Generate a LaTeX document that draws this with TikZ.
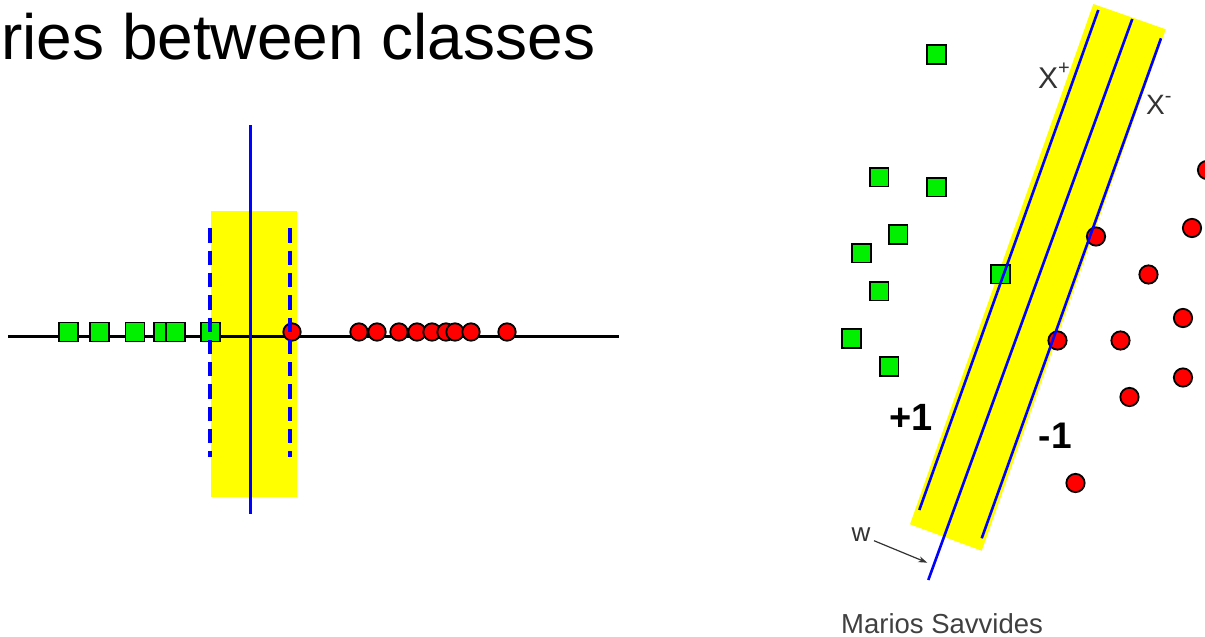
\documentclass[tikz,border=0pt]{standalone}
\usepackage{fontspec}
\setmainfont{Liberation Sans}
\usetikzlibrary{arrows.meta}
\definecolor{mygreen}{RGB}{0,240,0}
\definecolor{myred}{RGB}{255,0,0}
\definecolor{myyellow}{RGB}{255,255,0}
\definecolor{myblue}{RGB}{0,0,255}
\definecolor{labgray}{RGB}{51,51,51}
\definecolor{credgray}{RGB}{64,64,64}
\begin{document}
\begin{tikzpicture}[x=1pt,y=-1pt,
  sq/.style={draw=black,line width=1.8pt,fill=mygreen,shape=rectangle,minimum size=19pt,inner sep=0pt},
  dot/.style={draw=black,line width=1.8pt,fill=myred,shape=circle,minimum size=17.4pt,inner sep=0pt},
  sqr/.style={sq,minimum size=18.8pt},
  dotr/.style={dot,minimum size=18.3pt},
  bline/.style={draw=myblue,line width=2.6pt},
  lab/.style={inner sep=0pt,anchor=base west}]
\useasboundingbox (0,0) rectangle (1205,637);
\begin{scope}
\clip (0,0) rectangle (1205,637);
% title
\node[lab,font=\fontsize{64}{70}\selectfont] (title) at (1,59.5) {ries between classes};
% ---------- left panel ----------
\fill[myyellow] (210.7,210.7) rectangle (296.7,496.7);
\coordinate (axL) at (8,336);
\coordinate (axR) at (619,336);
\draw[line width=3pt] (axL) -- (axR);
\foreach \x [count=\i] in {68.7,99.3,135,163.6,175.3,210.7}
  \node[sq] (g\i) at (\x,332) {};
\foreach \x [count=\i] in {292,359,377,399,417,432,446,455,471,507}
  \node[dot] (r\i) at (\x,332) {};
\coordinate (hT) at (250.3,125);
\coordinate (hB) at (250.3,514.3);
\draw[myblue,line width=3.6pt] (hT) -- (hB);
\coordinate (dLT) at (210,228.3);
\coordinate (dLB) at (210,457);
\coordinate (dRT) at (290.3,228.3);
\coordinate (dRB) at (290.3,457);
\draw[myblue,line width=3.8pt,dash pattern=on 14.3pt off 8pt] (dLT) -- (dLB);
\draw[myblue,line width=3.8pt,dash pattern=on 14.3pt off 8pt] (dRT) -- (dRB);
% ---------- right panel ----------
\fill[myyellow] (1093.3,4) -- (1165.7,29.3) -- (981.7,550.7) -- (910,524.3) -- cycle;
\foreach \p [count=\i] in {(936.5,54.5),(879,177),(936.5,187),(898,234.5),(861.5,253),(879,291),(1000.5,274),(851.5,338.5),(889,366.5)}
  \node[sqr] (G\i) at \p {};
\foreach \p [count=\i] in {(1207,170),(1192,228),(1096,236.5),(1148.5,274.5),(1183,318),(1057.5,340.5),(1120.5,340.5),(1183,377.5),(1129.5,397),(1075.5,483)}
  \node[dotr] (R\i) at \p {};
\coordinate (pT) at (1098.3,10);
\coordinate (pB) at (919.3,510);
\coordinate (mT) at (1132.3,19);
\coordinate (mB) at (928.3,580);
\coordinate (nT) at (1161,38.3);
\coordinate (nB) at (981.7,538.3);
\draw[bline] (pT) -- (pB);
\draw[bline] (mT) -- (mB);
\draw[bline] (nT) -- (nB);
% labels
\node[lab,text=labgray,font=\fontsize{30}{32}\selectfont] (xp) at (1038,88) {X\raisebox{14pt}{\fontsize{20}{20}\selectfont +}};
\node[lab,text=labgray,font=\fontsize{28}{30}\selectfont] (xm) at (1146,114) {X\raisebox{12pt}{\fontsize{20}{20}\selectfont -}};
\node[lab,font=\fontsize{38}{40}\selectfont\bfseries] (plus1) at (889.5,430) {+1};
\node[lab,font=\fontsize{37}{40}\selectfont\bfseries] (minus1) at (1038.5,448) {-1};
\node[lab,text=labgray,font=\fontsize{26}{28}\selectfont] (w) at (851.5,541.7) {w};
\coordinate (wtip) at (927.3,562.7);
\draw[labgray,line width=1.2pt,-{Stealth[length=9pt,width=6pt]}] ([xshift=3.3pt,yshift=1pt]w.base east) -- (wtip);
\node[lab,text=credgray,font=\fontsize{27.5}{30}\selectfont] (credit) at (841,633) {Marios Savvides};
\end{scope}
\end{tikzpicture}
\end{document}
